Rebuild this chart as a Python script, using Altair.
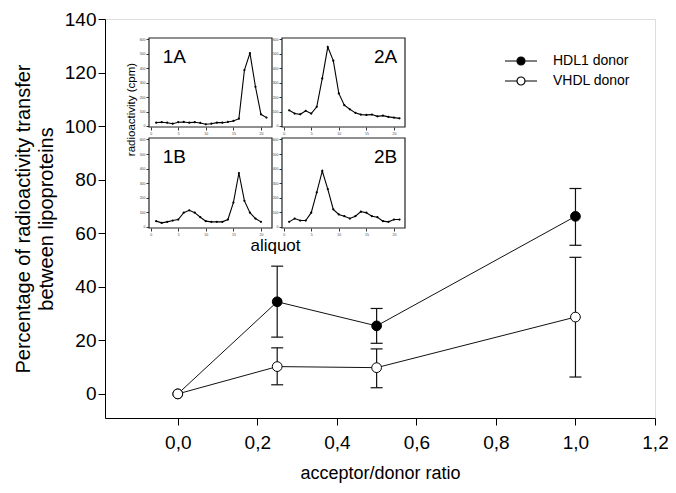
import altair as alt
import pandas as pd

# ---------------- main chart data ----------------
ratio = [0.0, 0.25, 0.5, 1.0]
series_names = ["HDL1 donor", "VHDL donor"]
hdl_mean = [0.0, 34.4, 25.4, 66.3]
hdl_low = [None, 21.2, 18.9, 55.5]
hdl_high = [None, 47.7, 31.9, 76.7]
vhdl_mean = [0.0, 10.2, 9.8, 28.7]
vhdl_low = [None, 3.4, 2.3, 6.3]
vhdl_high = [None, 17.2, 16.8, 51.0]

x_ticks = [0.0, 0.2, 0.4, 0.6, 0.8, 1.0, 1.2]
y_ticks = [0, 20, 40, 60, 80, 100, 120, 140]

# ---------------- inset data (aliquot profiles) ----------------
aliquot_21 = list(range(1, 22))
aliquot_20 = list(range(1, 21))
cpm_1A = [23, 26, 23, 16, 26, 28, 23, 26, 21, 12, 16, 23, 23, 28, 35, 51, 388, 505, 272, 81, 58]
cpm_2A = [109, 86, 81, 105, 86, 133, 330, 547, 453, 226, 144, 116, 91, 79, 77, 79, 67, 72, 63, 58, 53]
cpm_1B = [40, 28, 35, 44, 51, 98, 114, 98, 67, 40, 35, 35, 35, 51, 167, 370, 179, 98, 58, 35]
cpm_2B = [35, 58, 44, 44, 98, 237, 384, 260, 121, 86, 74, 58, 74, 105, 98, 74, 67, 40, 35, 51, 51]
inset_x_ticks = [0, 5, 10, 15, 20]
inset_y_ticks = [0, 100, 200, 300, 400, 500, 600]
inset_x_domain = [-0.3, 22]
inset_y_domain = [-7, 610]

FONT = "Liberation Sans"
W, H = 550, 399

# ---------------- main layers ----------------
rows = []
for name, m, lo, hi in [(series_names[0], hdl_mean, hdl_low, hdl_high),
                        (series_names[1], vhdl_mean, vhdl_low, vhdl_high)]:
    for r, mv, l, h in zip(ratio, m, lo, hi):
        rows.append(dict(series=name, ratio=r, mean=mv, low=l, high=h))
main_df = pd.DataFrame(rows)
err_df = main_df.dropna().copy()
caps_df = pd.concat([err_df.assign(cap=err_df["low"]), err_df.assign(cap=err_df["high"])])

xs = alt.Scale(domain=[-0.183, 1.2], nice=False, zero=False)
ys = alt.Scale(domain=[-9, 140], nice=False, zero=False)
x_axis = alt.Axis(values=x_ticks, labelExpr="replace(format(datum.value, '.1f'), '.', ',')",
                  title="acceptor/donor ratio", grid=False, tickSize=7, labelPadding=8,
                  titlePadding=12, labelFontSize=19, titleFontSize=18, titleFontWeight="normal",
                  labelFont=FONT, titleFont=FONT, labelColor="black", titleColor="black",
                  tickColor="black", domainColor="black", labelFlush=False)
y_axis = alt.Axis(values=y_ticks, title=["Percentage of radioactivity transfer", "between lipoproteins"],
                  grid=False, tickSize=7, labelPadding=2, titlePadding=8, labelFontSize=19,
                  titleFontSize=20, titleLineHeight=23, titleFontWeight="normal",
                  labelFont=FONT, titleFont=FONT, labelColor="black", titleColor="black",
                  tickColor="black", domainColor="black")


def mx():
    return alt.X("ratio:Q", scale=xs, axis=x_axis)


def my(field):
    return alt.Y(f"{field}:Q", scale=ys, axis=y_axis)


lines = alt.Chart(main_df).mark_line(color="#111", strokeWidth=1).encode(
    x=mx(), y=my("mean"), detail="series:N")
rules = alt.Chart(err_df).mark_rule(color="#111", strokeWidth=1.2).encode(
    x=mx(), y=my("low"), y2="high:Q")
caps = alt.Chart(caps_df).mark_tick(color="#111", orient="horizontal", size=12, thickness=1.2,
                                    opacity=1).encode(x=mx(), y=my("cap"))
legend_path = "M-4,0L-1,0M1,0L4,0M1,0A1,1,0,1,1,-1,0A1,1,0,1,1,1,0Z"
points = alt.Chart(main_df).mark_point(filled=True, size=95, stroke="black", strokeWidth=1,
                                       opacity=1, shape="circle").encode(
    x=mx(), y=my("mean"),
    fill=alt.Fill("series:N", scale=alt.Scale(domain=series_names, range=["black", "white"]),
                  legend=alt.Legend(title=None, orient="none", legendX=409, legendY=35,
                                    symbolType=legend_path, symbolSize=64,
                                    symbolStrokeColor="black", symbolStrokeWidth=1.2,
                                    symbolOpacity=1, labelFontSize=14, labelFont=FONT,
                                    labelColor="black", labelOffset=25, rowPadding=6,
                                    padding=0)))
main = alt.layer(lines, rules, caps, points)


# ---------------- insets ----------------
def inset(aliq, cpm, label, xr, yr, x_off, y_off, lx, ly, align, ytitle=None, xtitle=None):
    xsc = alt.Scale(domain=inset_x_domain, range=xr, nice=False, zero=False)
    ysc = alt.Scale(domain=inset_y_domain, range=yr, nice=False, zero=False)
    xa_kw = dict(orient="bottom", offset=x_off, values=inset_x_ticks, tickSize=3, labelFontSize=3.5,
                 labelPadding=1, domain=False, grid=False, tickColor="black", labelColor="#444",
                 tickWidth=0.8, labelFlush=False, labelFont=FONT)
    ya_kw = dict(orient="left", offset=y_off, values=inset_y_ticks, tickSize=3, labelFontSize=3.5,
                 labelPadding=1, domain=False, grid=False, tickColor="black", labelColor="#444",
                 tickWidth=0.8, labelFont=FONT)
    if xtitle:
        xa_kw.update(title=xtitle, titleFontSize=17, titleFont=FONT, titleFontWeight="normal",
                     titleColor="black", titleX=170, titleY=22, titleBaseline="alphabetic",
                     titleAlign="center")
    else:
        xa_kw.update(title=None)
    if ytitle:
        ya_kw.update(title=ytitle, titleFontSize=11.5, titleFont=FONT, titleFontWeight="normal",
                     titleColor="black", titleX=-18, titleY=90, titleBaseline="middle",
                     titleAlign="center", titleAngle=270)
    else:
        ya_kw.update(title=None)
    xa = alt.Axis(**xa_kw)
    ya = alt.Axis(**ya_kw)

    def ex(f):
        return alt.X(f"{f}:Q", scale=xsc, axis=xa)

    def ey(f):
        return alt.Y(f"{f}:Q", scale=ysc, axis=ya)

    frame_df = pd.DataFrame({"x0": [inset_x_domain[0]], "x1": [inset_x_domain[1]],
                             "y0": [inset_y_domain[0]], "y1": [inset_y_domain[1]]})
    prof_df = pd.DataFrame({"aliquot": aliq, "cpm": cpm})
    lab_df = pd.DataFrame({"lx": [lx], "ly": [ly], "label": [label]})
    frame = alt.Chart(frame_df).mark_rect(fill="white", stroke="#222", strokeWidth=1.2).encode(
        x=ex("x0"), x2="x1:Q", y=ey("y0"), y2="y1:Q")
    prof = alt.Chart(prof_df).mark_line(color="black", strokeWidth=1.1,
                                        point=alt.OverlayMarkDef(filled=True, size=5, color="black",
                                                                 opacity=1)).encode(
        x=ex("aliquot"), y=ey("cpm"))
    txt = alt.Chart(lab_df).mark_text(fontSize=19, font=FONT, align=align, baseline="alphabetic",
                                      color="black").encode(x=ex("lx"), y=ey("ly"), text="label:N")
    return alt.layer(frame, prof, txt)


rowA = [108, 19]
rowB = [209, 119]
col1 = [44, 167]
col2 = [177, 300]
in1A = inset(aliquot_21, cpm_1A, "1A", col1, rowA, -(H - 108), -44, 2.2, 440, "left",
             ytitle="radioactivity (cpm)")
in2A = inset(aliquot_21, cpm_2A, "2A", col2, rowA, -(H - 108), -177, 20.6, 440, "right")
in1B = inset(aliquot_20, cpm_1B, "1B", col1, rowB, -(H - 209), -44, 2.2, 440, "left",
             xtitle="aliquot")
in2B = inset(aliquot_21, cpm_2B, "2B", col2, rowB, -(H - 209), -177, 20.6, 440, "right")

chart = alt.layer(main, in1A, in2A, in1B, in2B).resolve_scale(
    x="independent", y="independent").properties(
    width=W, height=H,
    autosize=alt.AutoSizeParams(type="none"),
    padding={"left": 97, "top": 11, "right": 13, "bottom": 67},
).configure_view(stroke="black", strokeWidth=1.2).configure(background="white")

chart.save("out.html", embed_options={"renderer": "svg", "actions": False})
